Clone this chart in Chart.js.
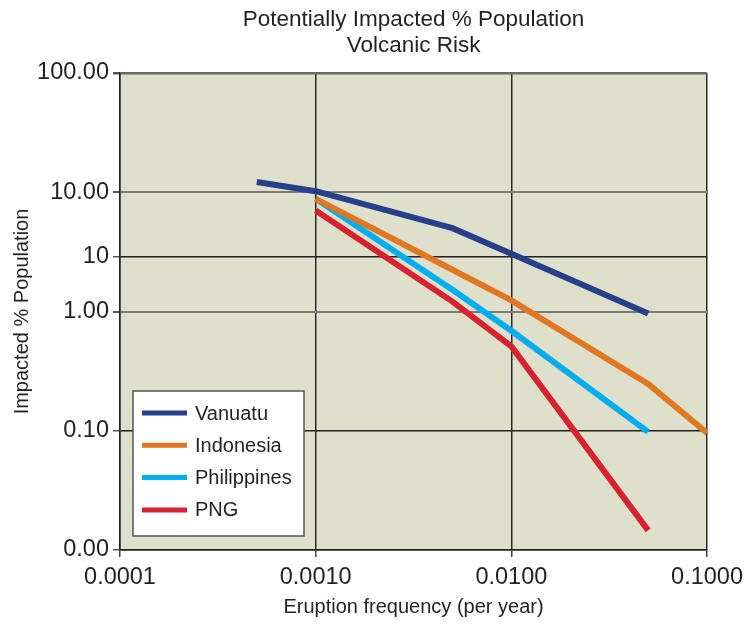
<!DOCTYPE html>
<html>
<head>
<meta charset="utf-8">
<script src="https://cdn.jsdelivr.net/npm/chart.js@4.4.1/dist/chart.umd.min.js"></script>
<style>
html,body{margin:0;padding:0;background:#fff;}
#wrap{width:749px;height:625px;position:relative;}
</style>
</head>
<body>
<div id="wrap"><canvas id="c" width="749" height="625"></canvas></div>
<script>
const titleLines = ["Potentially Impacted % Population", "Volcanic Risk"];
const xTitle = "Eruption frequency (per year)";
const yTitle = "Impacted % Population";

const seriesNames = ["Vanuatu", "Indonesia", "Philippines", "PNG"];
const seriesColors = ["#27408b", "#e07722", "#00aeef", "#d8222f"];

const vanuatuX = [0.0005, 0.001, 0.005, 0.01, 0.05];
const vanuatuY = [12.2, 10.2, 5.0, 3.05, 0.96];
const indonesiaX = [0.001, 0.005, 0.01, 0.05, 0.1];
const indonesiaY = [8.8, 2.24, 1.24, 0.247, 0.096];
const philippinesX = [0.001, 0.005, 0.01, 0.05];
const philippinesY = [8.8, 1.52, 0.69, 0.098];
const pngX = [0.001, 0.005, 0.01, 0.05];
const pngY = [7.03, 1.21, 0.51, 0.0146];

const xTickValues = [0.0001, 0.001, 0.01, 0.1];
const xTickLabels = ["0.0001", "0.0010", "0.0100", "0.1000"];
const yTickValues = [0.01, 0.1, 1, 2.9, 10, 100];
const yTickLabels = ["0.00", "0.10", "1.00", "10", "10.00", "100.00"];
const yGridColors = ["#222222", "#222222", "#7a7a7a", "#222222", "#7a7a7a", "#6a6a6a"];
const yGridWidths = [1.5, 1.5, 2, 1.5, 2, 2.5];

const FONT = "'Liberation Sans', Arial, Helvetica, sans-serif";

function pts(xs, ys){ return xs.map((x,i)=>({x:x, y:ys[i]})); }
const seriesData = [pts(vanuatuX,vanuatuY), pts(indonesiaX,indonesiaY), pts(philippinesX,philippinesY), pts(pngX,pngY)];

const bgPlugin = {
  id: 'bg',
  beforeDraw(chart){
    const {ctx, chartArea:a} = chart;
    ctx.save();
    ctx.fillStyle = '#dfe0cb';
    ctx.fillRect(a.left, a.top, a.right-a.left, a.bottom-a.top);
    ctx.restore();
  },
  afterDraw(chart){
    const {ctx, chartArea:a} = chart;
    ctx.save();
    ctx.fillStyle = '#231f20';
    ctx.textAlign = 'center';
    ctx.textBaseline = 'middle';
    ctx.font = "22.5px " + FONT;
    const cx = (a.left + a.right)/2;
    ctx.fillText(titleLines[0], cx, 20);
    ctx.fillText(titleLines[1], cx, 46);
    ctx.font = "20px " + FONT;
    ctx.fillText(xTitle, cx, 607);
    ctx.translate(22, (a.top+a.bottom)/2);
    ctx.rotate(-Math.PI/2);
    ctx.fillText(yTitle, 0, 0);
    ctx.restore();

    // legend
    ctx.save();
    const lx = a.left + 13, ly = a.top + 318, lw = 171, lh = 145;
    ctx.fillStyle = '#ffffff';
    ctx.fillRect(lx, ly, lw, lh);
    ctx.strokeStyle = '#555';
    ctx.lineWidth = 1.5;
    ctx.strokeRect(lx, ly, lw, lh);
    ctx.font = "20px " + FONT;
    ctx.textAlign = 'left';
    ctx.textBaseline = 'middle';
    chart.data.datasets.forEach((ds, i) => {
      const y = ly + 22 + i*32.3;
      ctx.strokeStyle = ds.borderColor;
      ctx.lineWidth = 5;
      ctx.beginPath();
      ctx.moveTo(lx + 9, y);
      ctx.lineTo(lx + 54, y);
      ctx.stroke();
      ctx.fillStyle = '#231f20';
      ctx.fillText(ds.label, lx + 62, y + 1);
    });
    ctx.restore();
  }
};

new Chart(document.getElementById('c'), {
  type: 'line',
  data: {
    datasets: seriesNames.map((n, i) => ({
      label: n,
      data: seriesData[i],
      borderColor: seriesColors[i],
      backgroundColor: seriesColors[i],
      borderWidth: 6,
      pointRadius: 0,
      tension: 0,
      fill: false
    }))
  },
  options: {
    responsive: false,
    animation: false,
    layout: { padding: { top: 73, right: 38, left: 0, bottom: 0 } },
    plugins: { legend: { display: false }, title: { display: false }, tooltip: { enabled: false } },
    scales: {
      x: {
        type: 'logarithmic',
        min: 0.0001, max: 0.1,
        afterBuildTicks(scale){ scale.ticks = xTickValues.map(v => ({value: v})); },
        afterFit(scale){ scale.height = 75; },
        ticks: {
          callback: (v, i) => xTickLabels[i],
          font: { family: FONT, size: 23.5 },
          color: '#231f20',
          padding: 6,
          maxRotation: 0, autoSkip: false
        },
        grid: {
          color: '#2a2a2a',
          lineWidth: 1.5,
          tickLength: 7,
          tickColor: '#444'
        },
        border: { display: true, color: '#222', width: 1.5 }
      },
      y: {
        type: 'logarithmic',
        min: 0.01, max: 100,
        afterBuildTicks(scale){ scale.ticks = yTickValues.map(v => ({value: v})); },
        afterFit(scale){ scale.width = 120; },
        ticks: {
          callback: (v, i) => yTickLabels[i],
          font: { family: FONT, size: 23.5 },
          color: '#231f20',
          padding: 4,
          autoSkip: false
        },
        grid: {
          color: ctx => yGridColors[ctx.index] || '#222',
          lineWidth: ctx => yGridWidths[ctx.index] || 1.5,
          tickLength: 7,
          tickColor: '#555'
        },
        border: { display: true, color: '#222', width: 1.5 }
      }
    }
  },
  plugins: [bgPlugin]
});
</script>
</body>
</html>
